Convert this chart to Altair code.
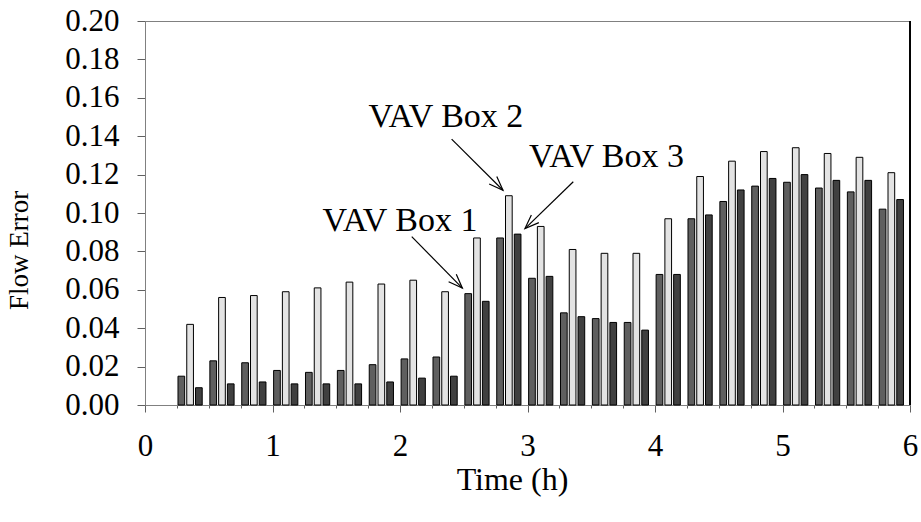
import math
import altair as alt
import pandas as pd

# Start (h) of each 15-minute interval
interval_start = [0.25, 0.50, 0.75, 1.00, 1.25, 1.50, 1.75, 2.00, 2.25, 2.50, 2.75, 3.00,
                  3.25, 3.50, 3.75, 4.00, 4.25, 4.50, 4.75, 5.00, 5.25, 5.50, 5.75]

# Flow error of each VAV box over each interval
box1_error = [0.015, 0.023, 0.022, 0.018, 0.017, 0.018, 0.021, 0.024, 0.025, 0.058, 0.087, 0.066,
              0.048, 0.045, 0.043, 0.068, 0.097, 0.106, 0.114, 0.116, 0.113, 0.111, 0.102]
box2_error = [0.042, 0.056, 0.057, 0.059, 0.061, 0.064, 0.063, 0.065, 0.059, 0.087, 0.109, 0.093,
              0.081, 0.079, 0.079, 0.097, 0.119, 0.127, 0.132, 0.134, 0.131, 0.129, 0.121]
box3_error = [0.009, 0.011, 0.012, 0.011, 0.011, 0.011, 0.012, 0.014, 0.015, 0.054, 0.089, 0.067,
              0.046, 0.043, 0.039, 0.068, 0.099, 0.112, 0.118, 0.120, 0.117, 0.117, 0.107]

series_names = ["VAV Box 1", "VAV Box 2", "VAV Box 3"]
series_colors = ["#5f5f5f", "#e3e3e3", "#404040"]

y_ticks = [0.00, 0.02, 0.04, 0.06, 0.08, 0.10, 0.12, 0.14, 0.16, 0.18, 0.20]
x_ticks = [0.00, 0.25, 0.50, 0.75, 1.00, 1.25, 1.50, 1.75, 2.00, 2.25, 2.50, 2.75, 3.00,
           3.25, 3.50, 3.75, 4.00, 4.25, 4.50, 4.75, 5.00, 5.25, 5.50, 5.75, 6.00]

# Callouts: label, text anchor (h, error), arrow tail (h, error), pointed bar (interval, series)
callout_text = ["VAV Box 1", "VAV Box 2", "VAV Box 3"]
callout_text_x = [2.00, 2.36, 3.62]
callout_text_y = [0.0906, 0.1450, 0.1241]
callout_tail_x = [2.092, 2.405, 3.359]
callout_tail_y = [0.0877, 0.1385, 0.1163]
callout_interval = [2.50, 2.75, 2.75]
callout_series = [0, 1, 2]

# Plot geometry
W, H = 765, 384
X_MAX, Y_MAX = 6.0, 0.20
STEP = 0.25
BAR_START, BAR_PITCH, BAR_WIDTH = 0.035, 0.275, 0.21
PX_X, PX_Y = W / X_MAX, H / Y_MAX
FONT = "Liberation Serif"

all_errors = [box1_error, box2_error, box3_error]
rows = []
for k, (name, vals) in enumerate(zip(series_names, all_errors)):
    for t, v in zip(interval_start, vals):
        x0 = t + STEP * (BAR_START + k * BAR_PITCH)
        rows.append({"series": name, "error": v, "x0": x0, "x1": x0 + STEP * BAR_WIDTH})
bars_df = pd.DataFrame(rows)

# Arrow tips sit just off the top corner of the bar they point to
ann_rows = []
for i, label in enumerate(callout_text):
    k = callout_series[i]
    t = callout_interval[i]
    idx = interval_start.index(t)
    top = all_errors[k][idx]
    left = t + STEP * (BAR_START + k * BAR_PITCH)
    right = left + STEP * BAR_WIDTH
    if callout_tail_x[i] < left:
        tip_x = left - 2.5 / PX_X
    else:
        tip_x = right + 4.0 / PX_X
    tip_y = top + 5.5 / PX_Y
    dx = (tip_x - callout_tail_x[i]) * PX_X
    dy = -(tip_y - callout_tail_y[i]) * PX_Y
    ang = math.degrees(math.atan2(dy, dx)) % 360
    ann_rows.append({"label": label, "tx": callout_text_x[i], "ty": callout_text_y[i],
                     "x0": callout_tail_x[i], "y0": callout_tail_y[i],
                     "x1": tip_x, "y1": tip_y, "angle": ang})
ann_df = pd.DataFrame(ann_rows)

x_scale = alt.Scale(domain=[0, X_MAX], nice=False, zero=False)
y_scale = alt.Scale(domain=[0, Y_MAX], nice=False)

x_axis = alt.Axis(
    values=x_ticks,
    labelExpr="datum.value % 1 == 0 ? format(datum.value, 'd') : ''",
    labelFlush=False, labelOverlap=False,
    tickSize={"condition": {"test": "datum.value % 1 == 0", "value": 7}, "value": 3},
    labelPadding=19, title="Time (h)", titleFontSize=32, titlePadding=3,
    titleX=367, grid=False,
)
y_axis = alt.Axis(
    values=y_ticks, format=".2f", tickSize=8, labelPadding=18, labelOverlap=False,
    labelSeparation=0, labelBound=False,
    title="Flow Error", titleFontSize=27, titlePadding=31, titleY=229, grid=False,
)


def xq(field):
    return alt.X(field, type="quantitative", scale=x_scale, axis=x_axis)


def yq(field):
    return alt.Y(field, type="quantitative", scale=y_scale, axis=y_axis)


bars = alt.Chart(bars_df).mark_bar(stroke="black", strokeWidth=1, opacity=1).encode(
    x=xq("x0"),
    x2="x1:Q",
    y=yq("error"),
    y2=alt.datum(0),
    fill=alt.Fill("series:N", scale=alt.Scale(domain=series_names, range=series_colors),
                  legend=None),
)

shafts = alt.Chart(ann_df).mark_rule(color="black", strokeWidth=1.2).encode(
    x=xq("x0"), y=yq("y0"), x2="x1:Q", y2="y1:Q",
)

heads = alt.Chart(ann_df).mark_point(
    shape="M-1,-0.38L0,0L-1,0.38", filled=False, stroke="black", strokeWidth=1.2,
    size=800, opacity=1,
).encode(
    x=xq("x1"), y=yq("y1"), angle=alt.Angle("angle:Q", scale=None),
)

labels = alt.Chart(ann_df).mark_text(
    font=FONT, fontSize=34, align="center", baseline="alphabetic", color="black",
).encode(
    x=xq("tx"), y=yq("ty"), text="label:N",
)

right_edge = alt.Chart(ann_df).mark_rule(color="black", strokeWidth=1.5).encode(
    x=alt.X(datum=X_MAX, type="quantitative", scale=x_scale, axis=x_axis),
)

chart = alt.layer(bars, shafts, heads, labels, right_edge).properties(
    width=W, height=H,
    padding={"left": 145, "top": 21, "right": 11, "bottom": 117},
    autosize=alt.AutoSizeParams(type="none"),
).configure_view(
    stroke="#808080", strokeWidth=1,
).configure_axis(
    labelFont=FONT, labelFontSize=31, labelColor="black", labelOverlap=False,
    titleFont=FONT, titleFontSize=30, titleFontWeight="normal", titleColor="black",
    domainColor="#808080", domainWidth=1, tickColor="#606060", tickWidth=1,
)

chart.save("out.html", embed_options={"renderer": "svg", "actions": False})
